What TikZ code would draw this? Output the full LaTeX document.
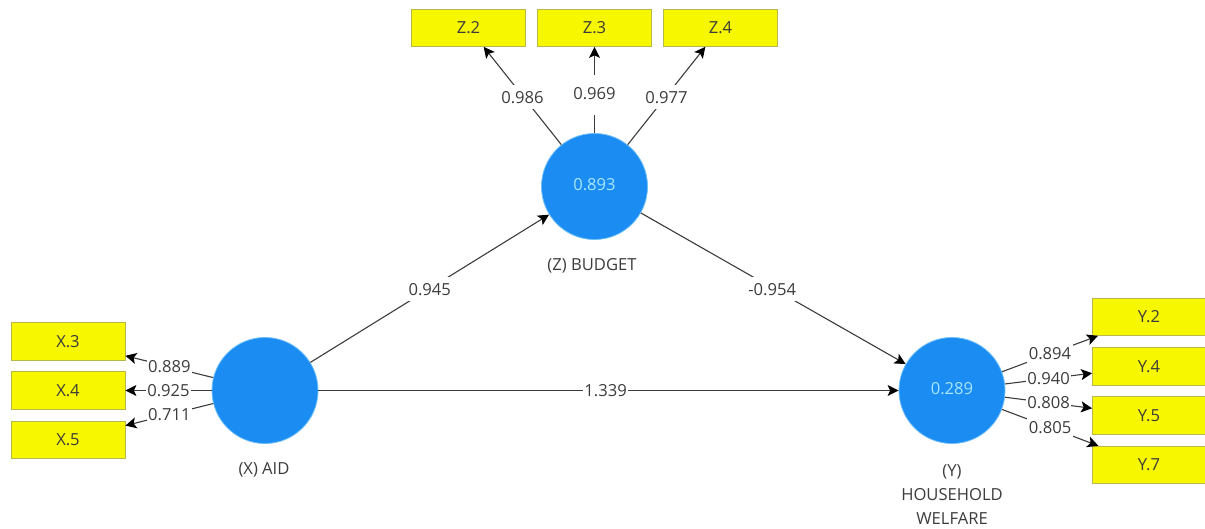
\documentclass[tikz,border=0pt]{standalone}
\usepackage{fontspec}
\setmainfont{Open Sans}
\usetikzlibrary{arrows.meta}
\definecolor{latent}{HTML}{1A8CF2}
\definecolor{latentrim}{HTML}{6CBDF8}
\definecolor{indicator}{HTML}{F7F700}
\definecolor{indrim}{HTML}{B8B84A}
\definecolor{ink}{HTML}{3C3C3C}
\definecolor{valink}{HTML}{A8E6FF}
\newcommand{\upval}[1]{\raisebox{3.5pt}{#1}}
\tikzset{
  txt/.style={font=\fontsize{16.6}{24}\selectfont, text=ink},
  latentnode/.style={circle, draw=latentrim, line width=0.8pt, fill=latent, minimum size=106pt, inner sep=0pt, txt, text=valink},
  indnode/.style={rectangle, draw=indrim, line width=0.8pt, fill=indicator, minimum width=114pt, minimum height=37.5pt, inner sep=0pt, txt},
  link/.style={draw=ink, line width=1.1pt, -{Stealth[length=11pt,width=11pt,inset=2.5pt,black]}},
  coef/.style={txt, fill=white, inner xsep=1.5pt, inner ysep=0pt, minimum height=24pt, midway},
  caption/.style={txt, inner sep=0pt, align=center}
}
\begin{document}
\begin{tikzpicture}[x=1pt,y=-1pt]
\useasboundingbox (0,0) rectangle (1205,529);
\fill[white] (0,0) rectangle (1205,529);
% latent variables
\node[latentnode] (X) at (265,390.5) {};
\node[latentnode] (Z) at (594.5,186.5) {\upval{0.893}};
\node[latentnode] (Y) at (952,390.5) {\upval{0.289}};
% indicators
\node[indnode] (X3) at (68,341.5) {X.3};
\node[indnode] (X4) at (68,390.5) {X.4};
\node[indnode] (X5) at (68,440) {X.5};
\node[indnode] (Z2) at (468.5,27.7) {Z.2};
\node[indnode] (Z3) at (594.5,27.7) {Z.3};
\node[indnode] (Z4) at (720.5,27.7) {Z.4};
\node[indnode,minimum width=113pt] (Y2) at (1149,316.7) {Y.2};
\node[indnode,minimum width=113pt] (Y4) at (1149,366.2) {Y.4};
\node[indnode,minimum width=113pt] (Y5) at (1149,415.5) {Y.5};
\node[indnode,minimum width=113pt] (Y7) at (1149,465) {Y.7};
% captions
\node[caption] (capX) at (264,469.5) {(X) AID};
\node[caption] (capZ) at (592,265.5) {(Z) BUDGET};
\node[caption] (capY) at (952,495) {(Y)\\HOUSEHOLD\\WELFARE};
% structural paths
\draw[link] (X) -- node[coef,yshift=-1pt] {0.945} (Z);
\draw[link] (Z) -- node[coef,yshift=-1pt,xshift=-1pt] {-0.954} (Y);
\draw[link] (X) -- node[coef,pos=0.495] {1.339} (Y);
% outer loadings
\draw[link] (X) -- node[coef] {0.889} (X3);
\draw[link] (X) -- node[coef] {0.925} (X4);
\draw[link] (X) -- node[coef] {0.711} (X5);
\draw[link] (Z) -- node[coef,yshift=-1.5pt] {0.986} (Z2);
\draw[link] (Z) -- node[coef,pos=0.44,minimum height=40pt] {\raisebox{4pt}{0.969}} (Z3);
\draw[link] (Z) -- node[coef,yshift=-1.5pt] {0.977} (Z4);
\draw[link] (Y) -- node[coef] {0.894} (Y2);
\draw[link] (Y) -- node[coef] {0.940} (Y4);
\draw[link] (Y) -- node[coef] {0.808} (Y5);
\draw[link] (Y) -- node[coef] {0.805} (Y7);
\end{tikzpicture}
\end{document}
